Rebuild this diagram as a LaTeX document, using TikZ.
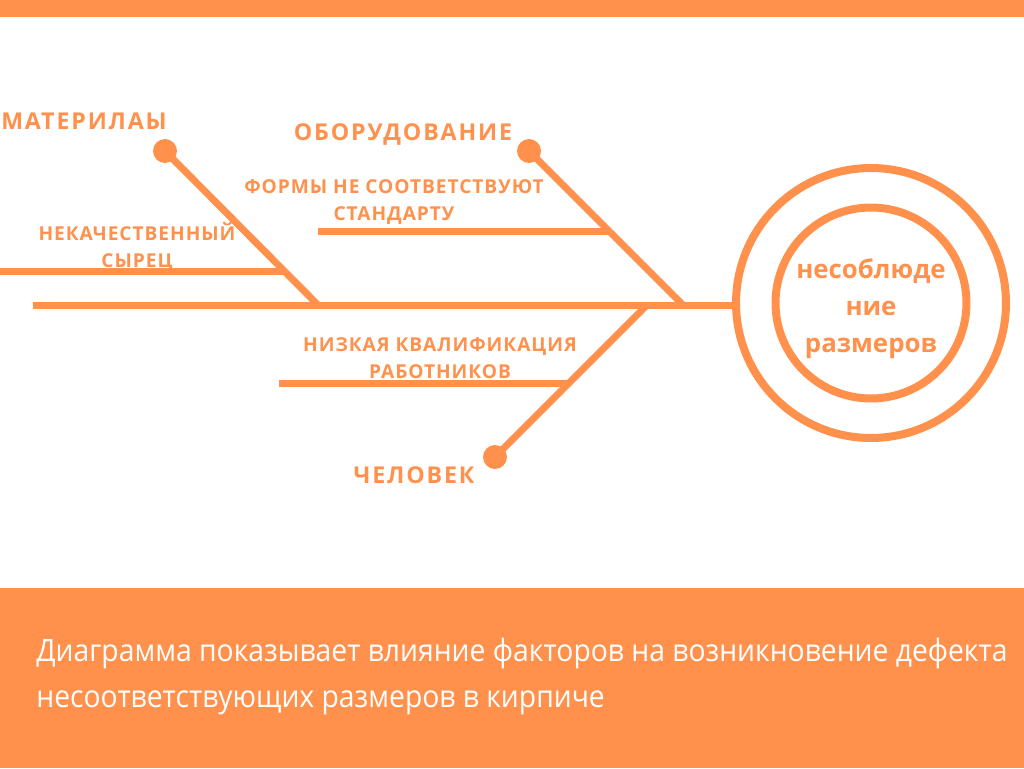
\documentclass[tikz,border=0pt]{standalone}
\usepackage{fontspec}
\setmainfont{Open Sans}
\newfontfamily\spacedfont[LetterSpace=8]{Open Sans}
\newfontfamily\tightfont[LetterSpace=5]{Open Sans}
\newfontfamily\narrowfont[FakeStretch=0.92]{Open Sans}
\usetikzlibrary{positioning}
\definecolor{fishorange}{HTML}{FF914D}

\begin{document}
\begin{tikzpicture}[
		x=0.02cm, y=-0.02cm,
		% Styles for the skeleton
		bone/.style={draw=fishorange, line width=0.14cm},
		bonedot/.style={circle, fill=fishorange, inner sep=0pt, minimum size=0.48cm},
		ring/.style={circle, draw=fishorange, line width=0.16cm, inner sep=0pt},
		% Styles for the texts
		cause/.style={font=\spacedfont\bfseries\fontsize{13.2}{16}\selectfont, text=fishorange, inner sep=0pt},
		factor/.style={font=\tightfont\bfseries\fontsize{10.9}{15.3}\selectfont, text=fishorange, align=center, inner sep=0pt}
		]
		
		\useasboundingbox (0,0) rectangle (1024,768);
		
		% ==========================================
		% Frame: top strip and caption band
		% ==========================================
		\fill[fishorange] (0,0) rectangle (1024,17);
		\fill[fishorange] (0,588) rectangle (1024,768);
		\node[font=\narrowfont\fontsize{17.5}{25.8}\selectfont, text=white, align=left, anchor=base west, inner sep=0pt] (caption) at (36,707) {Диаграмма показывает влияние факторов на возникновение дефекта\\несоответствующих размеров в кирпиче};
		
		% ==========================================
		% Head: the defect
		% ==========================================
		\node[ring, minimum size=5.4cm] (outer) at (871,303) {};
		\node[ring, minimum size=3.82cm] (inner) at (871,303) {};
		\node[align=center, text=fishorange, font=\bfseries\fontsize{14.7}{21}\selectfont, yshift=-0.12cm] (defect) at (inner.center) {несоблюде\\ние\\размеров};
		
		% ==========================================
		% Spine
		% ==========================================
		\coordinate (tail) at (33,305);
		\draw[bone] (tail) -- (tail -| outer.west);
		
		% ==========================================
		% Bones with their dots
		% ==========================================
		\node[bonedot] (matdot) at (165,151) {};
		\coordinate (matjoin) at (318,305);
		\draw[bone] (matdot.center) -- (matjoin);
		
		\node[bonedot] (eqdot) at (529,151) {};
		\coordinate (eqjoin) at (683,305);
		\draw[bone] (eqdot.center) -- (eqjoin);
		
		\node[bonedot] (mandot) at (495,457) {};
		\coordinate (manjoin) at (647,305);
		\draw[bone] (mandot.center) -- (manjoin);
		
		% ==========================================
		% Ribs
		% ==========================================
		\coordinate (rawstart) at (0,271);
		\coordinate (rawjoin) at (286,271);
		\draw[bone] (rawstart) -- (rawjoin);
		
		\coordinate (formstart) at (318,231);
		\coordinate (formjoin) at (608,231);
		\draw[bone] (formstart) -- (formjoin);
		
		\coordinate (skillstart) at (279,383);
		\coordinate (skilljoin) at (569,383);
		\draw[bone] (skillstart) -- (skilljoin);
		
		% ==========================================
		% Labels
		% ==========================================
		\node[cause] (matlabel) at (84,121) {МАТЕРИЛАЫ};
		\node[cause] (eqlabel) at (403,134) {ОБОРУДОВАНИЕ};
		\node[cause] (manlabel) at (414,475) {ЧЕЛОВЕК};
		
		\node[factor] (rawlabel) at (137,247) {НЕКАЧЕСТВЕННЫЙ\\СЫРЕЦ};
		\node[factor] (formlabel) at (394,202) {ФОРМЫ НЕ СООТВЕТСТВУЮТ\\СТАНДАРТУ};
		\node[factor] (skilllabel) at (440,358) {НИЗКАЯ КВАЛИФИКАЦИЯ\\РАБОТНИКОВ};
		
	\end{tikzpicture}
\end{document}
